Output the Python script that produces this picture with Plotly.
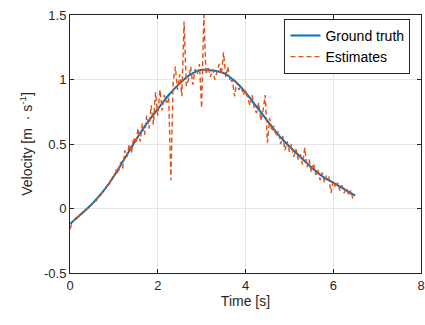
import plotly.graph_objects as go

# Ground truth (sampled every 0.25 s)
truth_t = [0.0, 0.25, 0.5, 0.75, 1.0, 1.25, 1.5, 1.75, 2.0, 2.25, 2.5, 2.75, 3.0,
           3.25, 3.5, 3.75, 4.0, 4.25, 4.5, 4.75, 5.0, 5.25, 5.5, 5.75, 6.0, 6.25, 6.5]
truth_v = [-0.12, -0.045, 0.035, 0.13, 0.25, 0.39, 0.53, 0.66, 0.77, 0.88, 0.97, 1.04, 1.075,
           1.07, 1.05, 0.99, 0.90, 0.79, 0.68, 0.57, 0.48, 0.40, 0.32, 0.25, 0.20, 0.15, 0.10]

# Estimates (sampled every 0.05 s)
est_t = [round(i * 0.05, 2) for i in range(130)]
est_v = [
    -0.16, -0.11, -0.09, -0.06, -0.06, -0.04, -0.03, -0.01, 0.00, 0.02,
    0.03, 0.06, 0.06, 0.10, 0.10, 0.14, 0.15, 0.19, 0.19, 0.24,
    0.25, 0.30, 0.27, 0.36, 0.31, 0.45, 0.40, 0.50, 0.43, 0.55,
    0.50, 0.62, 0.52, 0.66, 0.57, 0.72, 0.62, 0.80, 0.65, 0.90,
    0.72, 0.92, 0.76, 0.88, 0.82, 0.86, 0.22, 0.98, 1.10, 0.92,
    1.04, 0.87, 1.45, 0.95, 1.00, 1.10, 0.96, 1.08, 1.04, 1.12,
    0.78, 1.50, 1.04, 1.10, 1.02, 1.08, 1.00, 1.06, 1.12, 1.04,
    1.21, 1.02, 1.10, 0.98, 1.00, 0.87, 0.98, 0.92, 0.95, 0.88,
    0.92, 0.86, 0.80, 0.88, 0.78, 0.74, 0.82, 0.68, 0.76, 0.88,
    0.51, 0.70, 0.60, 0.64, 0.56, 0.60, 0.50, 0.56, 0.45, 0.52,
    0.44, 0.50, 0.40, 0.46, 0.38, 0.42, 0.34, 0.47, 0.32, 0.38,
    0.28, 0.35, 0.26, 0.30, 0.22, 0.28, 0.20, 0.26, 0.25, 0.12,
    0.22, 0.16, 0.20, 0.14, 0.18, 0.12, 0.16, 0.10, 0.14, 0.07,
]

x_ticks = [0, 2, 4, 6, 8]
x_labels = ["0", "2", "4", "6", "8"]
y_ticks = [-0.5, 0, 0.5, 1, 1.5]
y_labels = ["-0.5", "0", "0.5", "1", "1.5"]

fig = go.Figure()
fig.add_trace(go.Scatter(x=truth_t, y=truth_v, mode="lines", name="Ground truth",
                         line=dict(color="#0072BD", width=2, shape="spline", smoothing=0.6)))
fig.add_trace(go.Scatter(x=est_t, y=est_v, mode="lines", name="Estimates",
                         line=dict(color="#D95319", width=1.4, dash="5px,3px")))

axis_common = dict(showline=True, linecolor="#262626", linewidth=1, mirror="ticks",
                   ticks="inside", ticklen=4, tickcolor="#262626", automargin=False,
                   showgrid=True, gridcolor="#e5e5e5", gridwidth=1, zeroline=False,
                   tickfont=dict(family="Liberation Sans, Arial, sans-serif", size=13, color="#262626"))

fig.update_layout(
    width=425, height=325,
    margin=dict(l=70, r=4, t=15, b=52),
    paper_bgcolor="white", plot_bgcolor="white",
    font=dict(family="Liberation Sans, Arial, sans-serif", color="#262626"),
    xaxis=dict(range=[0, 8], tickvals=x_ticks, ticktext=x_labels,
               title=dict(text="Time [s]", font=dict(size=14), standoff=4), **axis_common),
    yaxis=dict(range=[-0.5, 1.5], tickvals=y_ticks, ticktext=y_labels,
               title=dict(text="Velocity [m  · s<sup>-1</sup>]", font=dict(size=14), standoff=8),
               **axis_common),
    legend=dict(x=0.97, y=0.985, xanchor="right", yanchor="top",
                bgcolor="white", bordercolor="#262626", borderwidth=1,
                font=dict(size=14, color="#000000"), tracegroupgap=0,
                itemwidth=30),
    showlegend=True,
)

fig.write_html("out.html", config={"displayModeBar": False},
               post_script="document.body.style.margin='0';")
